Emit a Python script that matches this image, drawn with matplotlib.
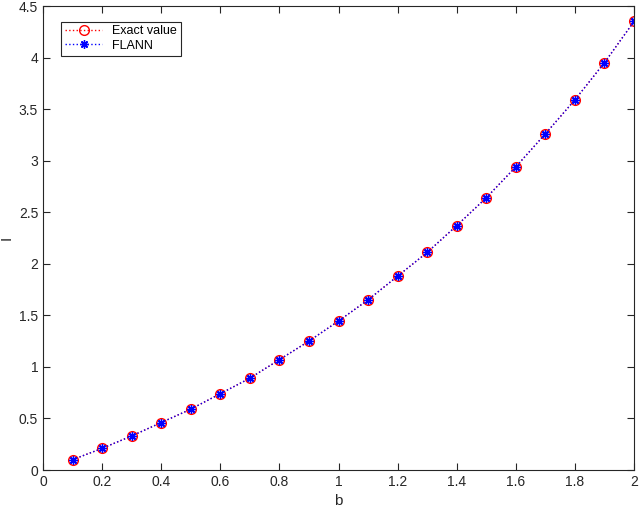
import matplotlib
matplotlib.use('Agg')
from matplotlib import pyplot as plt

plt.rcParams['font.family'] = ['Liberation Sans', 'DejaVu Sans']

b_values = [0.1, 0.2, 0.3, 0.4, 0.5, 0.6, 0.7, 0.8, 0.9, 1.0,
            1.1, 1.2, 1.3, 1.4, 1.5, 1.6, 1.7, 1.8, 1.9, 2.0]
exact_values = [0.10, 0.21, 0.33, 0.46, 0.59, 0.74, 0.89, 1.07, 1.25, 1.445,
                1.65, 1.88, 2.11, 2.37, 2.64, 2.94, 3.26, 3.59, 3.95, 4.35]
flann_values = [0.10, 0.21, 0.33, 0.46, 0.59, 0.74, 0.89, 1.07, 1.25, 1.445,
                1.65, 1.88, 2.11, 2.37, 2.64, 2.94, 3.26, 3.59, 3.95, 4.35]

fig = plt.figure(figsize=(6.4, 5.13), dpi=100)
ax = fig.add_axes([43 / 640, 1 - 470 / 513, (634 - 43) / 640, (470 - 6) / 513])

ax.plot(b_values, exact_values, linestyle=':', color='red', marker='o',
        markerfacecolor='none', markeredgecolor='red', markersize=7,
        linewidth=1, label='Exact value')
ax.plot(b_values, flann_values, linestyle=':', color='blue', marker=(8, 2, 0),
        markersize=6, markeredgewidth=1, linewidth=1, label='FLANN')

ax.set_xlim(0, 2)
ax.set_ylim(0, 4.5)
ax.set_xticks([0, 0.2, 0.4, 0.6, 0.8, 1, 1.2, 1.4, 1.6, 1.8, 2])
ax.set_xticklabels(['0', '0.2', '0.4', '0.6', '0.8', '1', '1.2', '1.4', '1.6', '1.8', '2'])
ax.set_yticks([0, 0.5, 1, 1.5, 2, 2.5, 3, 3.5, 4, 4.5])
ax.set_yticklabels(['0', '0.5', '1', '1.5', '2', '2.5', '3', '3.5', '4', '4.5'])
ax.tick_params(direction='in', top=True, right=True, labelsize=10, length=5,
               color='#262626', labelcolor='#262626')
for spine in ax.spines.values():
    spine.set_color('#262626')
    spine.set_linewidth(0.8)

ax.set_xlabel('b', fontsize=11, color='#262626')
ax.set_ylabel('I', fontsize=11, color='#262626')

leg = ax.legend(loc='upper left', bbox_to_anchor=(0.02, 0.98), fontsize=9,
                fancybox=False, edgecolor='#262626', framealpha=1,
                handlelength=3, borderpad=0.3, labelspacing=0.2)
leg.get_frame().set_linewidth(0.8)

fig.savefig('out.png', dpi=100)
